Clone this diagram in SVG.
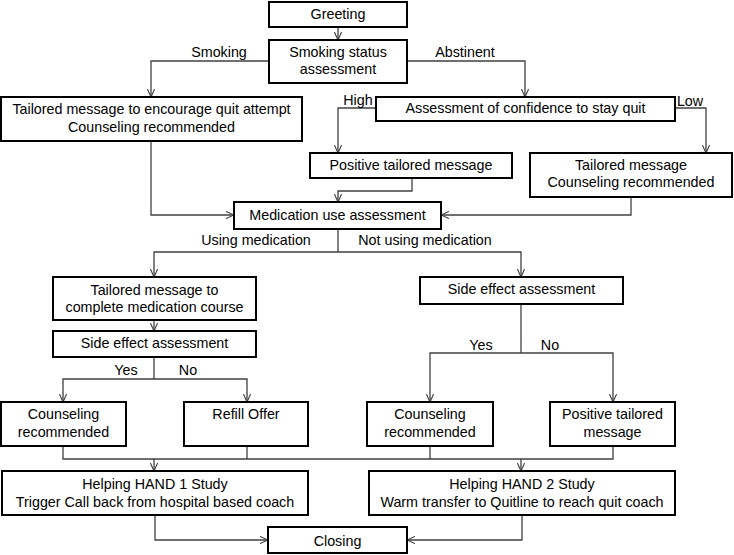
<svg xmlns="http://www.w3.org/2000/svg" width="734" height="555" viewBox="0 0 734 555">
<defs>
<style>
.box{fill:#fff;stroke:#000;stroke-width:2}
.t{font-family:"Liberation Sans",Arial,sans-serif;font-size:14.3px;fill:#000;text-anchor:middle}
.c{fill:none;stroke:#404040;stroke-width:1.3}
.a{marker-end:url(#arr)}
</style>
<marker id="arr" viewBox="0 0 10 10" refX="10" refY="5" markerWidth="8" markerHeight="8" markerUnits="userSpaceOnUse" orient="auto">
<path d="M0,0.5 L10,5 L0,9.5" fill="none" stroke="#404040" stroke-width="1.4"/>
</marker>
</defs>
<rect width="734" height="555" fill="#fff"/>
<g id="connectors">
<path class="c a" d="M338,27 V40"/>
<path class="c a" d="M269,61 H151 V97"/>
<path class="c a" d="M407,61 H525 V97"/>
<path class="c a" d="M376,108 H338 V153"/>
<path class="c a" d="M675,108 H706 V153"/>
<path class="c a" d="M151,141 V215 H234"/>
<path class="c a" d="M412,178 V191 H338 V202"/>
<path class="c a" d="M631,197 V215 H441"/>
<path class="c" d="M338,229 V252"/>
<path class="c a" d="M338,252 H154 V277"/>
<path class="c a" d="M338,252 H521 V277"/>
<path class="c a" d="M154,320 V331"/>
<path class="c" d="M154,357 V379"/>
<path class="c a" d="M154,379 H63 V402"/>
<path class="c a" d="M154,379 H247 V402"/>
<path class="c" d="M521,304 V353"/>
<path class="c a" d="M521,353 H430 V402"/>
<path class="c a" d="M521,353 H613 V402"/>
<path class="c" d="M63,446 V459 H613 V446 M247,446 V459 M430,446 V459"/>
<path class="c a" d="M154,459 V471"/>
<path class="c a" d="M521,459 V471"/>
<path class="c a" d="M155,515 V540 H268"/>
<path class="c a" d="M522,515 V540 H407"/>
<text class="t" x="219" y="57">Smoking</text>
<text class="t" x="465" y="57">Abstinent</text>
<text class="t" x="358" y="105">High</text>
<text class="t" x="690" y="106">Low</text>
<text class="t" x="256" y="245">Using medication</text>
<text class="t" x="425" y="245">Not using medication</text>
<text class="t" x="126" y="375">Yes</text>
<text class="t" x="188" y="375">No</text>
<text class="t" x="481" y="350">Yes</text>
<text class="t" x="550" y="350">No</text>
</g>
<g id="greeting"><rect class="box" x="269" y="2" width="138" height="25"/><text class="t" x="338" y="19">Greeting</text></g>
<g id="smoking-status"><rect class="box" x="269" y="40" width="138" height="43"/><text class="t" x="338" y="57">Smoking status</text><text class="t" x="338" y="74">assessment</text></g>
<g id="tailored-quit"><rect class="box" x="1" y="97" width="301" height="44"/><text class="t" x="151.5" y="114">Tailored message to encourage quit attempt</text><text class="t" x="151.5" y="132">Counseling recommended</text></g>
<g id="confidence"><rect class="box" x="376" y="97" width="299" height="24"/><text class="t" x="525.5" y="113">Assessment of confidence to stay quit</text></g>
<g id="positive1"><rect class="box" x="310" y="153" width="202" height="25"/><text class="t" x="411" y="170">Positive tailored message</text></g>
<g id="tailored-counsel"><rect class="box" x="530" y="153" width="202" height="44"/><text class="t" x="631" y="170">Tailored message</text><text class="t" x="631" y="187">Counseling recommended</text></g>
<g id="medication"><rect class="box" x="234" y="202" width="207" height="27"/><text class="t" x="337.5" y="220">Medication use assessment</text></g>
<g id="complete-course"><rect class="box" x="53" y="277" width="203" height="43"/><text class="t" x="154.5" y="295">Tailored message to</text><text class="t" x="154.5" y="312">complete medication course</text></g>
<g id="side-left"><rect class="box" x="53" y="331" width="203" height="26"/><text class="t" x="154.5" y="348">Side effect assessment</text></g>
<g id="side-right"><rect class="box" x="420" y="277" width="203" height="27"/><text class="t" x="521.5" y="294">Side effect assessment</text></g>
<g id="counsel-left"><rect class="box" x="1" y="402" width="125" height="44"/><text class="t" x="63.5" y="419">Counseling</text><text class="t" x="63.5" y="437">recommended</text></g>
<g id="refill"><rect class="box" x="184" y="402" width="124" height="44"/><text class="t" x="246" y="419">Refill Offer</text></g>
<g id="counsel-right"><rect class="box" x="367" y="402" width="126" height="44"/><text class="t" x="430" y="419">Counseling</text><text class="t" x="430" y="437">recommended</text></g>
<g id="positive2"><rect class="box" x="550" y="402" width="125" height="44"/><text class="t" x="612.5" y="419">Positive tailored</text><text class="t" x="612.5" y="437">message</text></g>
<g id="hand1"><rect class="box" x="2" y="471" width="306" height="44"/><text class="t" x="155" y="489">Helping HAND 1 Study</text><text class="t" x="155" y="507">Trigger Call back from hospital based coach</text></g>
<g id="hand2"><rect class="box" x="369" y="471" width="306" height="44"/><text class="t" x="522" y="489">Helping HAND 2 Study</text><text class="t" x="522" y="507">Warm transfer to Quitline to reach quit coach</text></g>
<g id="closing"><rect class="box" x="268" y="527" width="139" height="26"/><text class="t" x="337.5" y="546">Closing</text></g>
</svg>
